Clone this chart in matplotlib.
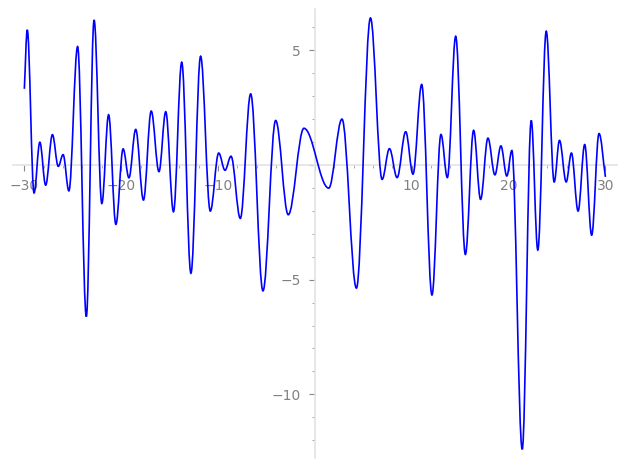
import matplotlib
matplotlib.use("Agg")
import matplotlib.pyplot as plt
from matplotlib.path import Path
from matplotlib.patches import PathPatch
from matplotlib.ticker import MultipleLocator, FuncFormatter

# extrema of the curve (plus the two end points)
xs = [-30.0, -29.7, -29.0, -28.4, -27.8, -27.1, -26.5, -26.0, -25.4, -24.5,
      -23.6, -22.8, -22.0, -21.3, -20.55, -19.8, -19.2, -18.5, -17.7, -16.9,
      -16.1, -15.4, -14.6, -13.75, -12.8, -11.8, -10.8, -9.93, -9.28, -8.66,
      -7.70, -6.63, -5.36, -4.05, -2.75, -1.13, 1.43, 2.8, 4.29, 5.74,
      6.94, 7.70, 8.49, 9.38, 10.13, 11.03, 12.09, 13.02, 13.68, 14.54,
      15.54, 16.39, 17.11, 17.87, 18.59, 19.21, 19.82, 20.34, 21.41, 22.34,
      23.02, 23.89, 24.71, 25.26, 25.95, 26.49, 27.18, 27.86, 28.58, 29.34,
      30.0]
ys = [3.32, 5.89, -1.22, 0.99, -0.88, 1.32, -0.06, 0.45, -1.13, 5.16,
      -6.61, 6.32, -1.68, 2.19, -2.59, 0.70, -0.56, 1.55, -1.53, 2.35,
      -0.29, 2.32, -2.04, 4.48, -4.72, 4.74, -2.01, 0.52, -0.23, 0.38,
      -2.33, 3.10, -5.49, 1.94, -2.17, 1.60, -1.01, 2.0, -5.37, 6.41,
      -0.63, 0.71, -0.55, 1.45, -0.40, 3.51, -5.67, 1.33, -0.55, 5.61,
      -3.90, 1.51, -1.50, 1.17, -0.43, 0.83, -0.48, 0.63, -12.40, 1.94,
      -3.71, 5.83, -0.74, 1.07, -0.74, 0.52, -2.01, 0.89, -3.06, 1.37,
      -0.52]

fig = plt.figure(figsize=(6.27, 4.69), dpi=100)
ax = fig.add_axes([0.0203, 0.0235, 0.9638, 0.9566])

# smooth curve: cubic bezier pieces, flat at each extremum
k = 0.364
verts = [(xs[0], ys[0])]
codes = [Path.MOVETO]
n = len(xs)
for i in range(n - 1):
    x0, y0, x1, y1 = xs[i], ys[i], xs[i + 1], ys[i + 1]
    d = x1 - x0
    if i == 0:
        c1 = (x0 + k * d, y0 + k * (y1 - y0))
    else:
        c1 = (x0 + k * d, y0)
    if i == n - 2:
        c2 = (x1 - k * d, y1 - k * (y1 - y0))
    else:
        c2 = (x1 - k * d, y1)
    verts += [c1, c2, (x1, y1)]
    codes += [Path.CURVE4] * 3
ax.add_patch(PathPatch(Path(verts, codes), facecolor="none",
                       edgecolor="#0000ff", lw=1.2, zorder=3))

xr = max(xs) - min(xs)
yr = max(ys) - min(ys)
ax.set_xlim(min(xs) - 0.02 * xr, max(xs) + 0.02 * xr)
ax.set_ylim(min(ys) - 0.02 * yr, max(ys) + 0.02 * yr)

for s in ["top", "right"]:
    ax.spines[s].set_visible(False)
for s in ["left", "bottom"]:
    ax.spines[s].set_position("zero")
    ax.spines[s].set_color("#e3e3e3")
    ax.spines[s].set_linewidth(1.2)

ax.xaxis.set_major_locator(MultipleLocator(10))
ax.xaxis.set_minor_locator(MultipleLocator(2))
ax.yaxis.set_major_locator(MultipleLocator(5))
ax.yaxis.set_minor_locator(MultipleLocator(1))
fmt = FuncFormatter(lambda v, p: "" if abs(v) < 1e-9 else ("%d" % v).replace("-", "\u2212"))
ax.xaxis.set_major_formatter(fmt)
ax.yaxis.set_major_formatter(fmt)
ax.tick_params(which="major", length=4, width=0.8, color="#888888",
               labelcolor="#808080", labelsize=10, pad=6)
ax.tick_params(which="minor", length=2.5, width=0.6, color="#999999")

fig.savefig("out.png", dpi=100)
